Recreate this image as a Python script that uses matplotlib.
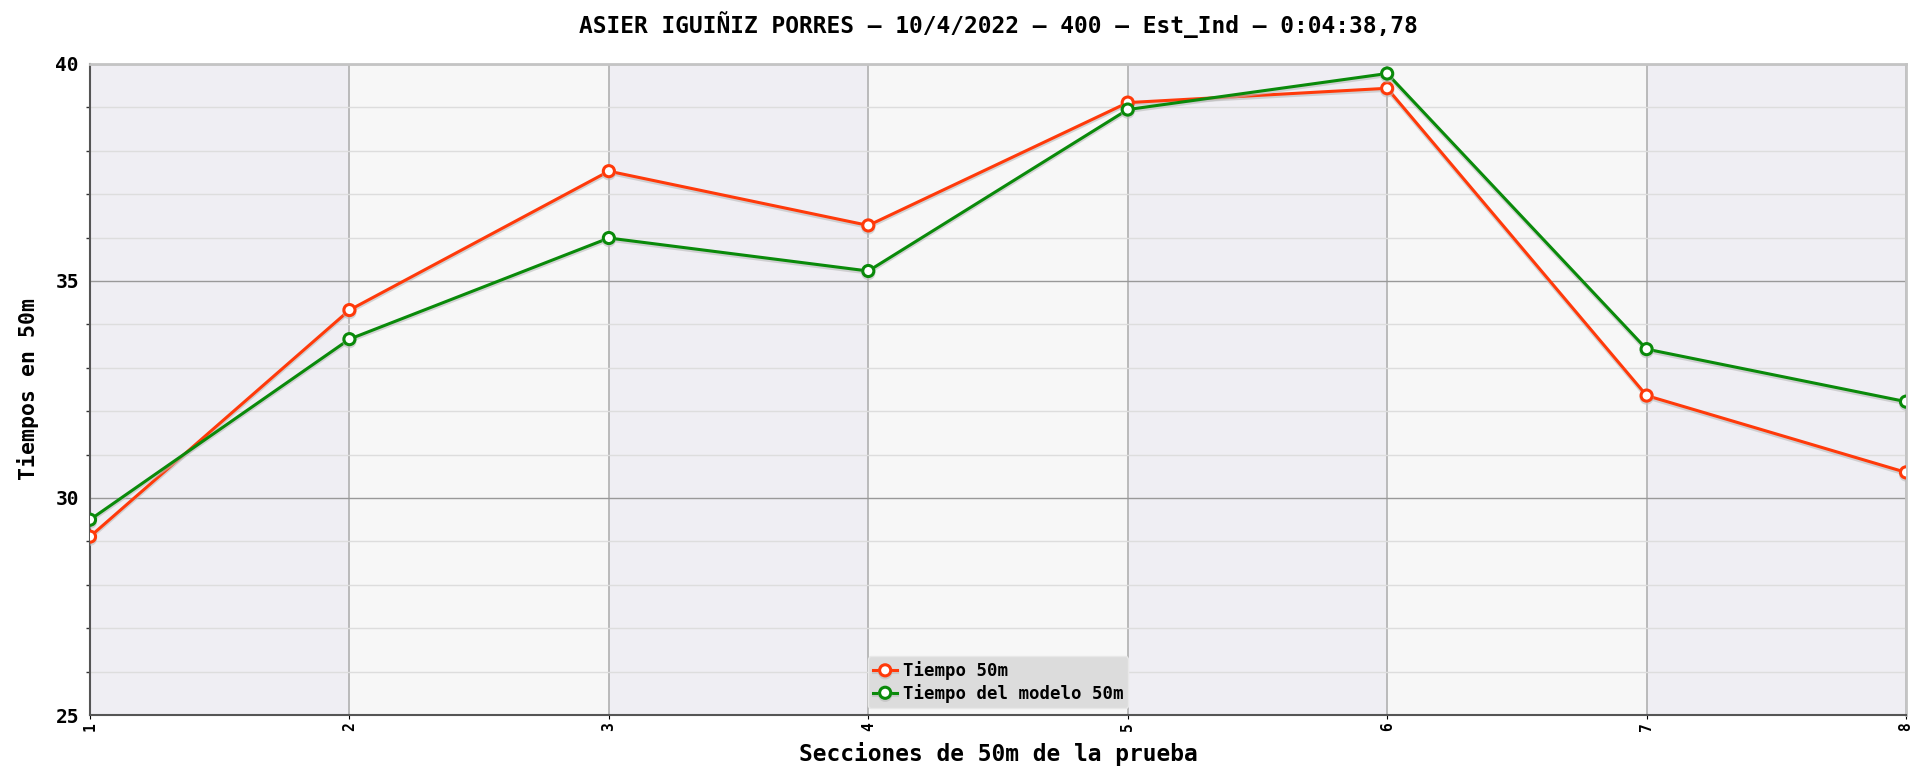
import matplotlib
matplotlib.use('Agg')
from matplotlib import pyplot as plt
import matplotlib.patheffects as pe
from matplotlib.ticker import MultipleLocator

# datos de la prueba
secciones = [1, 2, 3, 4, 5, 6, 7, 8]
tiempo_50m = [29.11, 34.33, 37.53, 36.28, 39.11, 39.44, 32.36, 30.59]
tiempo_modelo = [29.50, 33.66, 35.99, 35.23, 38.95, 39.78, 33.43, 32.22]
titulo = "ASIER IGUIÑIZ PORRES – 10/4/2022 – 400 – Est_Ind – 0:04:38,78"

plt.rcParams['font.family'] = ['DejaVu Sans Mono']
plt.rcParams['font.weight'] = 'bold'

fig = plt.figure(figsize=(19.11, 7.68), dpi=100)
ax = fig.add_axes([0.0471, 0.069, 0.9503, 0.8477])

# bandas de fondo alternas
for i in range(len(secciones) - 1):
    color = '#efeef3' if i % 2 == 0 else '#f7f7f7'
    ax.axvspan(secciones[i], secciones[i + 1], color=color, zorder=0, lw=0)

ax.set_xlim(1, 8)
ax.set_ylim(25, 40)
ax.yaxis.set_major_locator(MultipleLocator(5))
ax.yaxis.set_minor_locator(MultipleLocator(1))
ax.set_xticks(secciones)

ax.grid(axis='y', which='minor', color='#dddddd', lw=1, zorder=1)
ax.grid(axis='y', which='major', color='#999999', lw=1, zorder=1)
ax.grid(axis='x', which='major', color='#b0b0b0', lw=1.2, zorder=1)

sombra = [pe.SimpleLineShadow(offset=(0, -1.5), shadow_color='#bbbbbb', alpha=0.6), pe.Normal()]
ax.plot(secciones, tiempo_50m, color='#ff3a0a', lw=2.2, marker='o', ms=8,
        mfc='white', mec='#ff3a0a', mew=2.2, label='Tiempo 50m', zorder=3,
        path_effects=sombra)
ax.plot(secciones, tiempo_modelo, color='#0a8a0a', lw=2.2, marker='o', ms=8,
        mfc='white', mec='#0a8a0a', mew=2.2, label='Tiempo del modelo 50m', zorder=3,
        path_effects=sombra)

for s in ['top', 'right']:
    ax.spines[s].set_color('#c4c4c4')
    ax.spines[s].set_linewidth(2)
for s in ['left', 'bottom']:
    ax.spines[s].set_color('#555555')
    ax.spines[s].set_linewidth(1.5)

ax.tick_params(axis='y', which='major', labelsize=14, length=0, pad=8)
ax.tick_params(axis='y', which='minor', length=3, width=1, color='#333333')
ax.tick_params(axis='x', labelsize=10.5, rotation=90, length=3, pad=2)

ax.set_title(titulo, fontsize=16.5, fontweight='bold', pad=22)
ax.set_xlabel('Secciones de 50m de la prueba', fontsize=16.5, fontweight='bold', labelpad=8)
ax.set_ylabel('Tiempos en 50m', fontsize=15.5, fontweight='bold', labelpad=12)

leg = ax.legend(loc='lower center', bbox_to_anchor=(0.5, 0.0), fontsize=12.5,
                frameon=True, facecolor='#dcdcdc', edgecolor='#e8e8e8',
                framealpha=1, handlelength=1.4, handletextpad=0.3,
                borderpad=0.3, labelspacing=0.2, borderaxespad=0.4, fancybox=True)
for t in leg.get_texts():
    t.set_fontweight('bold')

fig.savefig('out.png', dpi=100)
